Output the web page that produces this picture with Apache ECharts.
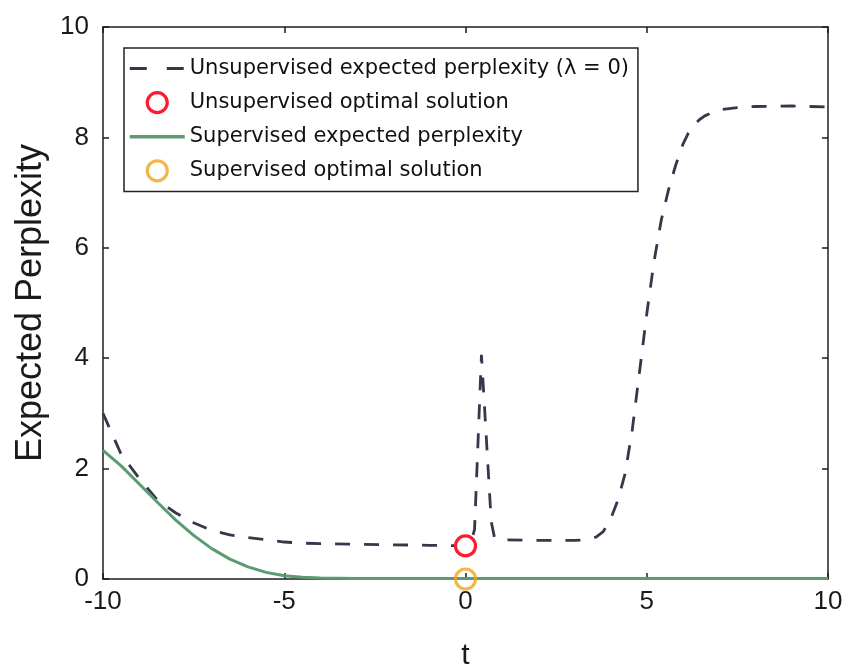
<!DOCTYPE html>
<html>
<head>
<meta charset="utf-8">
<script src="https://cdn.jsdelivr.net/npm/echarts@6/dist/echarts.min.js"></script>
<style>html,body{margin:0;padding:0;background:#fff}#c{width:850px;height:667px}</style>
</head>
<body>
<div id="c"></div>
<script>
var seriesNames = [
  'Unsupervised expected perplexity (\u03bb = 0)',
  'Unsupervised optimal solution',
  'Supervised expected perplexity',
  'Supervised optimal solution'
];
var tUnsup = [-10,-9.5,-9,-8.5,-8,-7.5,-7,-6.5,-6,-5.5,-5,-4.5,-4,-3,-2,-1,0,0.15,0.25,0.44,0.71,0.8,1,2,3,3.3,3.6,3.8,4,4.2,4.4,4.6,4.8,5,5.2,5.4,5.6,5.8,6,6.15,6.3,6.45,6.6,6.8,7,7.5,8,9,10];
var vUnsup = [3.0,2.26,1.82,1.43,1.2,1.02,0.88,0.8,0.75,0.71,0.67,0.65,0.64,0.63,0.62,0.61,0.6,0.65,0.9,4.06,1.04,0.75,0.71,0.7,0.7,0.71,0.76,0.86,1.08,1.42,1.9,2.7,3.75,4.8,5.75,6.5,7.05,7.5,7.88,8.08,8.22,8.32,8.39,8.45,8.5,8.54,8.56,8.57,8.55];
var tSup = [-10,-9.5,-9,-8.5,-8,-7.5,-7,-6.5,-6,-5.5,-5,-4.5,-4,-3,0,5,10];
var vSup = [2.33,2.05,1.72,1.39,1.07,0.79,0.55,0.36,0.22,0.12,0.06,0.03,0.02,0.01,0.01,0.01,0.01];
var unsupOpt = [0, 0.6];
var supOpt = [0, 0];
var xTicks = [-10,-5,0,5,10];
var yTicks = [0,2,4,6,8,10];

function pairs(t, v){ return t.map(function(x,i){ return [x, v[i]]; }); }

var axisCol = '#1e1e1e';
var lblFont = {fontFamily:'Liberation Sans, Arial, sans-serif', fontSize:26, color:'#1a1a1a'};
function xAx(pos, show){
  return {type:'value', position:pos, min:-10, max:10, interval:5,
    axisLine:{show:true, onZero:false, lineStyle:{color:axisCol, width:1.5}},
    axisTick:{show:true, inside:true, length:6, lineStyle:{color:axisCol, width:1.5}},
    axisLabel:Object.assign({show:show, margin:10}, lblFont),
    splitLine:{show:false},
    name: show ? 't' : '', nameLocation:'middle', nameGap:62,
    nameTextStyle:{fontFamily:'Liberation Sans, Arial, sans-serif', fontSize:30, color:'#1a1a1a'}};
}
function yAx(pos, show){
  return {type:'value', position:pos, min:0, max:10, interval:2,
    axisLine:{show:true, onZero:false, lineStyle:{color:axisCol, width:1.5}},
    axisTick:{show:true, inside:true, length:6, lineStyle:{color:axisCol, width:1.5}},
    axisLabel:Object.assign({show:show, margin:14}, lblFont),
    splitLine:{show:false},
    name: show ? 'Expected Perplexity' : '', nameLocation:'middle', nameGap:54, nameRotate:90,
    nameTextStyle:{fontFamily:'Liberation Sans, Arial, sans-serif', fontSize:36, color:'#1a1a1a'}};
}

var chart = echarts.init(document.getElementById('c'), null, {renderer:'canvas'});
chart.setOption({
  backgroundColor:'#fff',
  animation:false,
  grid:{left:103, right:22, top:27, bottom:88, containLabel:false, outerBoundsMode:'none'},
  xAxis:[xAx('bottom', true), xAx('top', false)],
  yAxis:[yAx('left', true), yAx('right', false)],
  legend:{
    orient:'vertical', left:124, top:48,
    padding:[10, 9, 9, 4], itemGap:12, itemWidth:55, itemHeight:20,
    backgroundColor:'#fff', borderColor:'#222', borderWidth:1.5, borderRadius:0,
    textStyle:{fontFamily:'DejaVu Sans, sans-serif', fontSize:21, color:'#111'},
    data:[
      {name:seriesNames[0], lineStyle:{type:[17,20], width:3}, itemStyle:{opacity:0}},
      {name:seriesNames[1], itemStyle:{color:'#ffffff', borderColor:'#ff1a2e', borderWidth:3.2}},
      {name:seriesNames[2], lineStyle:{width:3.5}, itemStyle:{opacity:0}},
      {name:seriesNames[3], itemStyle:{color:'#ffffff', borderColor:'#f0a51c', borderWidth:3.2}}
    ]
  },
  series:[
    {name:seriesNames[0], type:'line', data:pairs(tUnsup, vUnsup), symbol:'none',
     lineStyle:{color:'#35374a', width:2.8, type:[15,14]}, itemStyle:{color:'#35374a'}, z:2},
    {name:seriesNames[1], type:'scatter', data:[unsupOpt], symbol:'circle', symbolSize:20, clip:false,
     itemStyle:{color:'#ffffff', opacity:1, borderColor:'#ff1a2e', borderWidth:3.2}, z:5},
    {name:seriesNames[2], type:'line', data:pairs(tSup, vSup), symbol:'none', clip:true,
     lineStyle:{color:'#5c9b71', width:3}, itemStyle:{color:'#5c9b71'}, z:3},
    {name:seriesNames[3], type:'scatter', data:[supOpt], symbol:'circle', symbolSize:20, clip:false,
     itemStyle:{color:'rgba(255,255,255,0)', borderColor:'#f0a51c', borderWidth:3.2}, z:5}
  ]
});
</script>
</body>
</html>
